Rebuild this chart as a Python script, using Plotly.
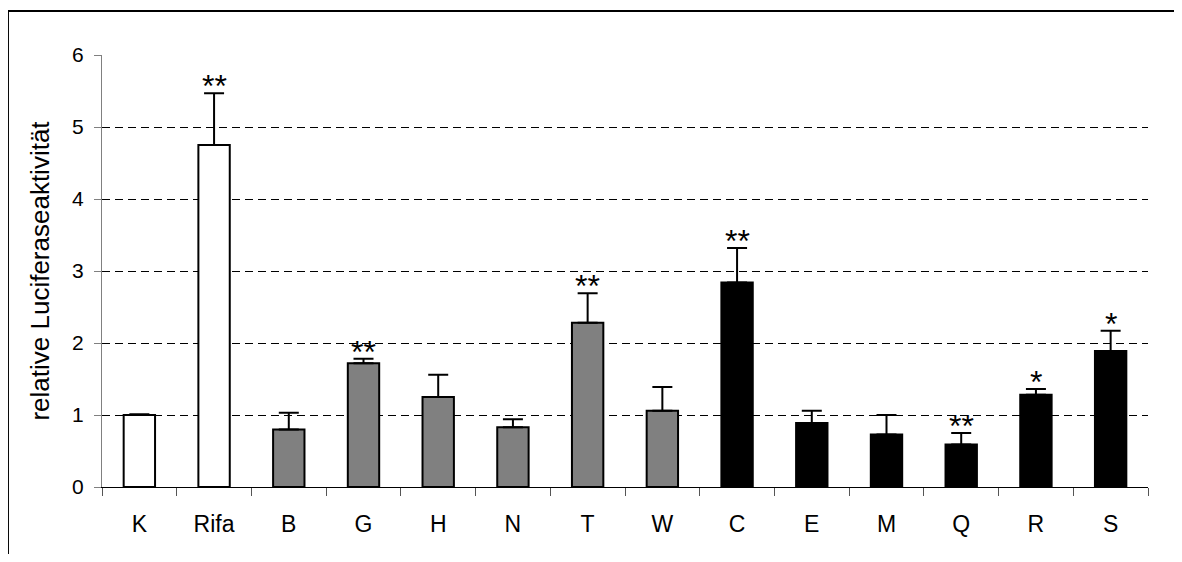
import plotly.graph_objects as go

# relative luciferase activity per sample
categories = ["K", "Rifa", "B", "G", "H", "N", "T", "W", "C", "E", "M", "Q", "R", "S"]
values = [1.00, 4.75, 0.80, 1.72, 1.25, 0.83, 2.28, 1.06, 2.84, 0.89, 0.73, 0.59, 1.28, 1.89]
errors = [0.01, 0.72, 0.23, 0.06, 0.31, 0.11, 0.41, 0.33, 0.48, 0.17, 0.27, 0.16, 0.08, 0.28]
stars = ["", "**", "", "**", "", "", "**", "", "**", "", "", "**", "*", "*"]
fill_colors = ["white"] * 2 + ["#808080"] * 6 + ["black"] * 6

FONT = "Liberation Sans, Arial, sans-serif"

fig = go.Figure(go.Bar(
    x=categories,
    y=values,
    width=0.42,
    marker=dict(color=fill_colors, line=dict(color="black", width=2)),
    error_y=dict(type="data", array=errors, arrayminus=[0] * len(errors),
                 symmetric=False, color="black", thickness=2, width=10),
))

for cat, v, e, s in zip(categories, values, errors, stars):
    if s:
        fig.add_annotation(x=cat, y=v + e, text=s, showarrow=False,
                           yanchor="bottom", yshift=-13,
                           font=dict(family=FONT, size=32, color="black"))

# outer frame (top and left edges visible, rest runs off the page)
fig.add_shape(type="rect", xref="paper", yref="paper",
              x0=-0.0899, x1=1.3, y0=-0.5, y1=1.1019,
              line=dict(color="black", width=2))

# the page body adds an 8px margin, so the figure is sized to fit inside it
fig.update_layout(
    width=1166, height=546,
    margin=dict(l=94, r=26, t=47, b=67),
    plot_bgcolor="white", paper_bgcolor="white",
    showlegend=False,
    font=dict(family=FONT, size=21, color="black"),
    xaxis=dict(
        type="category", tickson="boundaries", ticks="outside", ticklen=8,
        tickcolor="#555555", showline=True, linecolor="black", linewidth=1,
        showgrid=False, ticklabelstandoff=16,
        tickfont=dict(family=FONT, size=23, color="black"),
    ),
    yaxis=dict(
        range=[0, 6], dtick=1, ticks="outside", ticklen=7, tickcolor="#808080",
        showline=True, linecolor="#808080", linewidth=1, zeroline=False,
        showgrid=True, gridcolor="black", gridwidth=1, griddash="8px,5px",
        ticklabelstandoff=6,
        tickfont=dict(family=FONT, size=21, color="black"),
        title=dict(text="relative Luciferaseaktivität", standoff=15,
                   font=dict(family=FONT, size=26, color="black")),
    ),
)

fig.write_html("out.html")
